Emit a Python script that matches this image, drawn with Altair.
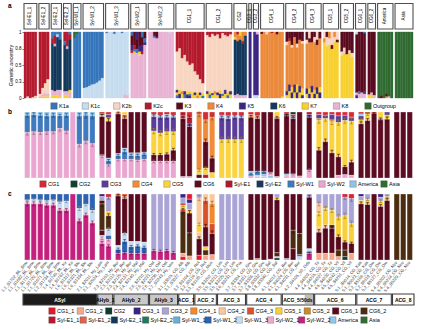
import altair as alt
import pandas as pd

FONT = "Liberation Sans"
W = 389  # plot width shared by all panels

# ======================= Panel a : individual ancestry =======================
k_names = ["K1a", "K1c", "K2b", "K2c", "K3", "K4", "K5", "K6", "K7", "K8", "Outgroup"]
k_codes = ["a", "c", "b", "r", "m", "o", "p", "n", "y", "k", "g"]
k_colors = ["#3676bc", "#c6dcef", "#f8d5c1", "#b41b2d", "#5b0b1f", "#ec8a3b",
            "#3d2683", "#13395c", "#f8d130", "#e9b3d4", "#2f6b31"]

pops_a = ["Syl-E1_1", "Syl-E1_2", "Syl-E2_1", "Syl-E2_2", "Syl-W1_1", "Syl-W1_2",
          "Syl-W1_3", "Syl-W2_1", "Syl-W2_2", "CG1_1", "CG1_2", "CG2", "CG3_1",
          "CG3_2", "CG4_1", "CG4_2", "CG4_3", "CG5_1", "CG5_2", "CG6_1", "CG6_2",
          "America", "Asia"]

# one string per individual; components listed top -> bottom, in percent
ind_a = [
    ["r100", "r98 b2", "r100", "r99 k1", "r97 b2 y1"],
    ["r94 b4 k2", "r85 b10 k3 y2", "r78 b15 k5 y2", "r72 b22 k4 y2"],
    ["a10 r8 n70 k8 y4", "a6 r12 k4 n68 k6 y4", "a4 c4 n80 k8 y4", "a12 n76 k10 y2"],
    ["r14 a6 n70 k6 y4", "r22 k4 n64 k6 y4", "a4 r8 n76 y4 k8"],
    ["g10 a90", "g4 a96", "a100"],
    ["a85 c15", "a84 c16", "a82 c18", "a80 c20", "a79 c21", "a77 c23", "a74 c26", "a70 c30"],
    ["a2 c98", "c100", "c100", "a3 c97", "c100", "c100", "a2 c98", "c95 k5", "c96 k4"],
    ["a6 m14 p8 r4 k68", "m20 r6 a4 y4 k66", "p12 m14 a6 k68", "m22 p8 y4 b2 k64",
     "a8 m12 p10 r4 k66", "m10 a6 p4 k80"],
    ["k100", "k100", "m6 a3 k91", "m8 p2 k90", "k100", "k100", "k100", "k100", "c2 k98", "k100"],
    ["r30 b58 p4 y4 a4", "r25 b63 y6 p6", "r40 b50 o4 y6", "r35 b55 p5 a5", "r45 b45 y5 p5",
     "r50 b40 y4 a3 p3", "r48 b44 y8", "r60 b32 p4 y4", "r65 b27 y5 o3", "r72 b20 p4 y4",
     "r78 b15 y4 a3"],
    ["r5 b85 p4 y6", "r8 b82 y5 a5", "r3 b90 p3 y4", "r6 b84 o4 y6", "r4 b88 p4 y4",
     "r10 b78 y6 p6", "r2 b92 a3 y3", "r5 b83 p6 y6", "r7 b85 y4 a4", "r4 b86 p5 y5"],
    ["o8 y4 n84 k4", "r4 o10 n80 k6", "y6 o6 n84 k4", "o14 r4 n78 k4", "o6 n90 k4"],
    ["p100"],
    ["p96 c4", "k4 p92 c4"],
    ["m3 o97", "o100", "b4 o96", "o100", "r2 o98", "o100", "m4 o96", "o100", "o98 y2"],
    ["m15 b5 o70 p6 y4", "m10 r4 o66 p10 y10", "m20 b4 o60 y8 p8", "m8 o72 p12 y8",
     "m18 b6 o56 y12 p8", "m12 o70 p10 y8", "m14 b4 o68 y10 p4"],
    ["m12 b6 o68 p8 y6", "b10 m6 o70 y8 p6", "m16 o66 p10 y8", "m8 b8 o72 y6 p6",
     "b12 m8 o64 p10 y6", "m10 o74 y8 p8"],
    ["b10 o6 y84", "m8 b14 y78", "o10 b10 y80", "b20 m6 y74", "o8 b8 y84", "b12 m4 y84"],
    ["m30 b6 y64", "m24 b8 y68", "m34 y66", "m28 b4 y68", "m32 b6 y62"],
    ["c4 m88 k4 p4", "m90 a4 k6", "m92 k8", "a2 m88 p4 k6"],
    ["m95 y5", "m92 k4 y4", "m96 k4"],
    ["g100", "g97 m3", "g100", "g94 m4 o2", "g98 k2", "g100"],
    ["g100", "g100", "g100", "g100", "g100", "g100", "g100"],
]

# ======================= Panel b : main groups =======================
b_cats = ["CG1", "CG2", "CG3", "CG4", "CG5", "CG6", "Syl-E1", "Syl-E2", "Syl-W1",
          "Syl-W2", "America", "Asia"]
b_codes = ["CG1", "CG2", "CG3", "CG4", "CG5", "CG6", "E1", "E2", "W1", "W2", "Am", "As"]
b_colors = ["#d62a35", "#123f2f", "#5a3d9a", "#f08b3b", "#fad33f", "#5d0b20",
            "#b3182d", "#153a5e", "#3d7ac0", "#eaa6d0", "#8ec5e7", "#2d6e2f"]

# one string per sample bar: "code:percent[:error]" listed top -> bottom
bars_b = [
    "Am:5:1 W1:26:3 W2:69:4", "Am:4:1 W1:26:3 W2:70:4", "Am:5:1 W1:26:3 W2:69:3",
    "Am:6:1 W1:24:3 W2:70:4", "Am:5:1 W1:25:3 W2:70:3", "Am:6:1 W1:19:2 W2:75:4",
    "Am:5:1 W1:24:3 W2:71:4", "W2:100", "Am:6:1 W1:43:4 W2:51:4",
    "Am:5:1 W1:39:4 W2:56:4", "Am:6:1 W1:42:4 W2:52:4",
    "CG1:3 As:2 CG5:2 CG6:58:3 W1:2 W2:33:2",
    "CG1:4 CG3:5 CG5:5 CG6:56:4 Am:4 W1:6:2 W2:20:2",
    "CG4:3 CG6:60:3 Am:3 W1:6:2 W2:28:2",
    "CG5:4 CG4:6 CG6:45:4 Am:5 W1:12:3 W2:28:2",
    "CG6:62:3 Am:4 W1:6:2 W2:28:2",
    "CG6:62:3 Am:4 W1:7:2 W2:27:2",
    "CG6:61:3 Am:3 W1:8:2 W2:28:2",
    "CG1:4 Am:3 CG3:22:3 CG5:36:4 CG6:10:2 W2:25:2",
    "CG1:5 Am:3 CG3:24:3 CG5:33:4 CG6:10:2 W2:25:2",
    "CG1:4 Am:4 CG3:22:3 CG5:34:4 CG6:11:2 W2:25:2",
    "CG1:5 Am:3 CG3:22:3 CG5:28:4 CG6:17:3 W2:25:2",
    "E1:6 CG1:4 CG6:88:3 W2:2",
    "CG1:8 E1:10:2 CG3:4 CG6:76:4 W2:2",
    "CG1:3 CG4:85:4 CG5:7:2 CG6:5",
    "CG1:12 CG4:33:4 CG6:40:4 CG5:10:2 E1:5",
    "CG1:8 CG4:62:4 CG6:22:3 CG5:8",
    "CG1:5 Am:4 CG3:33:3 CG5:58:4", "CG1:6 Am:4 CG3:32:3 CG5:58:4",
    "CG1:5 Am:3 CG3:34:3 CG5:58:4", "CG1:6 Am:3 CG3:33:3 CG5:58:4",
    "CG1:4 CG4:4 CG6:82:3 Am:4 W1:3:1 W2:3",
    "CG1:6 CG4:4 CG6:80:3 W1:6:2 Am:2 W2:2",
    "CG6:90:3 W1:5:2 Am:3 W2:2",
    "CG6:92:3 W2:4:1 Am:4",
    "CG5:8:2 CG1:2 CG6:88:3 W2:2",
    "CG1:3 CG2:3 CG6:88:3 Am:3 W2:3",
    "CG2:4 CG1:3 W1:3 CG6:84:3 W2:6:1",
    "CG6:97:2 W2:3",
    "E1:4 CG3:4 CG6:80:3 W2:12:2",
    "CG1:4 CG3:6 CG4:3 CG5:45:4 CG6:42:4",
    "CG1:5 CG3:5 CG5:35:4 CG6:55:4",
    "CG1:4 CG3:8 CG4:3 CG5:47:4 CG6:38:4",
    "CG1:6 CG3:10 CG5:52:4 CG6:28:4 W2:4",
    "CG1:5 CG3:8 CG5:70:4 CG6:12:2 W2:5",
    "CG1:8:2 CG3:6 CG5:62:4 CG6:20:3 W2:4",
    "CG1:3 Am:3 CG3:6 CG5:6:2 CG6:82:3",
    "CG1:3 CG5:10:2 CG6:87:3",
    "CG1:2 CG6:98:1",
    "CG5:10:2 CG3:2 CG6:88:3",
    "CG3:5 CG5:6:2 CG6:89:3",
    "CG6:100", "CG6:100", "CG6:100",
]

# ======================= Panel c : sub-groups =======================
c_cats = ["CG1_1", "CG1_2", "CG2", "CG3_1", "CG3_2", "CG4_1", "CG4_2", "CG4_3", "CG5_1",
          "CG5_2", "CG6_1", "CG6_2", "Syl-E1_1", "Syl-E1_2", "Syl-E2_1", "Syl-E2_2",
          "Syl-W1_1", "Syl-W1_2", "Syl-W1_3", "Syl-W2_1", "Syl-W2_2", "America", "Asia"]
c_codes = ["C11", "C12", "C2", "C31", "C32", "C41", "C42", "C43", "C51", "C52", "C61",
           "C62", "E11", "E12", "E21", "E22", "W11", "W12", "W13", "W21", "W22", "Am", "As"]
c_colors = ["#e31a2c", "#f5a98a", "#0d3b2c", "#3a2384", "#aaa4d6", "#f08a2d", "#f9c89b",
            "#d9512a", "#f9cf3a", "#c88a2b", "#5a0a1f", "#4b2c10", "#b8172f", "#e2634d",
            "#13365d", "#1e7a5b", "#6aaed8", "#2d62b1", "#c7dcf0", "#f2a6cf", "#c4217f",
            "#8fc8e8", "#2e6e2e"]

bars_c = [
    "W12:9:2 W13:4:1 W21:2 W22:85:3", "W12:8:2 W13:5:1 W21:2 W22:85:3",
    "W12:9:2 W13:4:1 W21:2 W22:85:3", "W12:10:2 W13:5:1 W21:2 W22:83:3",
    "W12:9:2 W13:6:1 W21:2 W22:83:3", "W12:12:2 W13:10:2 W21:3 W22:75:3",
    "W12:11:2 W13:11:2 W21:3 W22:75:3", "W22:100",
    "W12:22:3 W13:17:3 W21:2 W22:59:3", "W12:16:3 W13:14:2 W21:2 W22:68:3",
    "W12:25:3 W13:17:3 W21:2 W22:56:3",
    "C31:4 C32:6 C61:5 C62:40:4 C61:8 W13:4 W21:8:2 W22:25:3",
    "C11:5 C32:22:3 C51:6 C62:20:3 W13:10:2 W12:6 W21:10:2 W22:21:2",
    "C43:3 C61:75:3 W13:6 W12:6:2 W22:10:2",
    "C43:4 C41:3 C61:53:4 W13:12:2 W12:17:3 W22:11:2",
    "C61:72:3 W13:8 W12:10:2 W22:10:2",
    "C61:72:3 W13:7 W12:11:2 W22:10:2",
    "C61:73:3 W13:8 W12:9:2 W22:10:2",
    "C32:86:3 W22:14:2", "C32:87:3 W22:13:2", "C32:86:3 W22:14:2", "C32:89:3 W22:11:2",
    "C31:6 C32:8 C11:3 C51:6:2 C11:3 C62:64:4 C12:5 C11:5",
    "C11:8:2 C31:6 C32:10 C51:5 C61:30:4 C62:35:4 C12:6",
    "C32:6 C42:40:4 C51:12:2 C42:10 C61:25:3 C11:7",
    "C42:10 C43:40:4 C61:30:4 C51:5 C62:8 C12:7",
    "C42:15:3 C41:30:4 C43:15 C61:32:4 C12:8",
    "C32:100", "C32:99 C61:1", "C32:100", "C32:100",
    "C61:100", "C61:98:1 C41:2", "C61:100", "C61:99 W21:1",
    "C32:5 C51:4 C61:80:3 C62:6 W21:2 C2:3",
    "C61:98:1 C32:2", "C61:55:4 C62:28:4 C61:17", "C61:60:4 C62:32:4 W12:3 W13:5",
    "C32:5 C61:78:3 W13:4 W12:3 W22:10:2",
    "C32:15:3 C42:15:3 C51:20:3 C42:8 C61:32:4 C12:10",
    "C32:22:3 C51:25:3 C42:5 C61:38:4 C12:10",
    "C32:25:3 C51:22:3 C62:5 C61:38:4 C12:10",
    "C32:35:3 C51:30:4 C61:20:3 C62:10 C12:5",
    "C11:5 C32:28:3 C51:40:4 C61:12:2 C62:10 C2:5",
    "C11:7:2 C32:38:4 C51:30:4 C61:15:2 C12:10",
    "C31:4 C32:6 C51:5 C61:85:3", "C32:8 C51:8:2 C61:84:3", "C61:100",
    "C31:5 C32:6 C51:8:2 C61:81:3", "C32:4 C51:6:2 C61:90:3",
    "C62:100", "C62:100", "C62:100",
]

# sample groups (bars per group) and the boxes that label them
bar_groups = ["ASyl", "AHyb_1", "AHyb_2", "AHyb_3", "ACG_1", "ACG_2", "ACG_3", "ACG_4",
              "ACG_5", "50ds", "ACG_6", "ACG_7", "ACG_8"]
bar_counts = [11, 2, 5, 4, 2, 3, 4, 5, 3, 1, 6, 5, 3]
box_of_group = ["ASyl", "AHyb_1", "AHyb_2", "AHyb_3", "ACG_1", "ACG_2", "ACG_3", "ACG_4",
                "ACG_5/50ds", "ACG_5/50ds", "ACG_6", "ACG_7", "ACG_8"]

sample_labels = [
    "1.1_S1702_BL_Sme", "1.1_S1682_BL_Sme", "1.1_S1711_BL_Sme", "1.1_S1720_BL_Sme",
    "1.1_S1671_BL_Sme", "1.2_S1734_BL_Sme", "1.4_S1745_BL_Kir", "1.4_S1762_BL_Kir",
    "1.6_S1312_BL_Sto", "1.6_S1321_BL_Sto", "1.6_S1334_BL_Sto",
    "2.1_S2011_Hy_Lam", "2.1_S2024_Hy_Lam",
    "2.3_S2103_Hy_Bor", "2.3_S2112_Hy_Bor", "2.3_S2125_Hy_Bor", "2.4_S2131_Hy_Mal",
    "2.4_S2140_Hy_Mal",
    "2.6_S2210_Hy_Ost", "2.6_S2221_Hy_Ost", "2.6_S2236_Hy_Ost", "2.7_S2243_Hy_Ven",
    "3.1_S3015_CG_Alb", "3.1_S3027_CG_Alb",
    "3.2_S3104_CG_Rot", "3.2_S3116_CG_Rot", "3.3_S3120_CG_Mon",
    "3.5_S3202_CG_Lim", "3.5_S3213_CG_Lim", "3.5_S3225_CG_Lim", "3.6_S3231_CG_Pra",
    "3.7_S3304_CG_Gro", "3.7_S3311_CG_Gro", "3.7_S3326_CG_Gro", "3.8_S3332_CG_Sal",
    "3.8_S3340_CG_Sal",
    "4.1_S4012_CG_Ber", "4.1_S4024_CG_Ber", "4.1_S4031_CG_Ber",
    "4.2_S4105_50_Ods",
    "4.4_S4203_CG_Tir", "4.4_S4215_CG_Tir", "4.4_S4227_CG_Tir", "4.5_S4230_CG_Vil",
    "4.5_S4242_CG_Vil", "4.5_S4251_CG_Vil",
    "5.1_S5014_CG_Kas", "5.1_S5023_CG_Kas", "5.2_S5106_CG_Dre", "5.2_S5118_CG_Dre",
    "5.2_S5127_CG_Dre",
    "5.4_S5202_CG_Nov", "5.4_S5214_CG_Nov", "5.4_S5229_CG_Nov",
]

# ======================= layout helpers =======================
GAP_A = 0.8
GAP_B = 0.48
PAD_B = 0.09


def darker(hx, f=0.6):
    r, g, b = int(hx[1:3], 16), int(hx[3:5], 16), int(hx[5:7], 16)
    return "#%02x%02x%02x" % (int(r * f), int(g * f), int(b * f))


# panel a frames
rows_a, hdr = [], []
pos = 0.0
for pop, inds in zip(pops_a, ind_a):
    start = pos
    for s in inds:
        comps = [(t[0], float(t[1:])) for t in s.split()]
        tot = sum(v for _, v in comps)
        cum = 1.0
        for code, v in comps:
            fr = v / tot
            rows_a.append(dict(x0=pos, x1=pos + 1, y0=cum - fr, y1=cum,
                               col=k_colors[k_codes.index(code)]))
            cum -= fr
        pos += 1
    hdr.append(dict(pop=pop, x0=start, x1=pos, xm=(start + pos) / 2))
    pos += GAP_A
total_a = pos - GAP_A
df_a = pd.DataFrame(rows_a)
df_hdr = pd.DataFrame(hdr)

# bar positions for panels b and c
bar_x, grp_span = [], []
pos = 0.0
for g, n in zip(bar_groups, bar_counts):
    st = pos
    for _ in range(n):
        bar_x.append((pos, pos + 1))
        pos += 1
    grp_span.append((g, st, pos))
    pos += GAP_B
total_b = pos - GAP_B


def bar_frames(bars, codes, cats, colors):
    rows, errs = [], []
    for i, s in enumerate(bars):
        toks = [t.split(":") for t in s.split()]
        tot = sum(float(t[1]) for t in toks)
        x0, x1 = bar_x[i]
        xc = (x0 + x1) / 2
        cum = 1.0
        for t in toks:
            v = float(t[1]) / tot
            top, bot = cum, cum - v
            cum = bot
            col = colors[codes.index(t[0])]
            rows.append(dict(x0=x0 + PAD_B, x1=x1 - PAD_B, y0=bot, y1=top, col=col))
            if len(t) > 2 and top < 0.995:
                e = float(t[2]) / 100
                lo, hi = max(top - e, 0), min(top + e, 1)
                dc = darker(col)
                errs.append(dict(ex0=xc, ex1=xc, ey0=lo, ey1=hi, col=dc))
                errs.append(dict(ex0=xc - 0.22, ex1=xc + 0.22, ey0=lo, ey1=lo, col=dc))
                errs.append(dict(ex0=xc - 0.22, ex1=xc + 0.22, ey0=hi, ey1=hi, col=dc))
    return pd.DataFrame(rows), pd.DataFrame(errs)


yaxis = alt.Axis(values=[0, 0.25, 0.5, 0.75, 1], format="~g", title="Genetic ancestry",
                 labelFontSize=4.5, titleFontSize=5.5, titleFontWeight="normal",
                 tickSize=2, tickWidth=0.5, tickColor="black", labelColor="black",
                 domain=False, grid=False, labelPadding=1, titlePadding=1)
yscale = alt.Scale(domain=[0, 1], nice=False, zero=False)


def letter(t, y):
    return alt.Chart(pd.DataFrame({"t": [t]})).mark_text(
        fontSize=6.5, fontWeight="bold", font=FONT, baseline="top", align="left"
    ).encode(x=alt.value(-16), y=alt.value(y), text="t:N")


# ---------------- header (population boxes) ----------------
xa = alt.Scale(domain=[0, total_a], nice=False, zero=False)
hdr_box = alt.Chart(df_hdr).mark_rect(fill="white", stroke="#505050", strokeWidth=1.1).encode(
    x=alt.X("x0:Q", scale=xa, axis=None), x2="x1", y=alt.value(0.5), y2=alt.value(26))
hdr_txt = alt.Chart(df_hdr).mark_text(angle=270, fontSize=4.5, font=FONT,
                                      baseline="middle", align="center").encode(
    x=alt.X("xm:Q", scale=xa, axis=None), y=alt.value(13), text="pop:N")
header = alt.layer(hdr_box, hdr_txt, letter("a", 0)).properties(width=W, height=29)

# ---------------- panel a ----------------
panel_a = alt.Chart(df_a).mark_rect(strokeWidth=0.35).encode(
    x=alt.X("x0:Q", scale=xa, axis=None), x2="x1",
    y=alt.Y("y0:Q", scale=yscale, axis=yaxis), y2="y1",
    fill=alt.Fill("col:N", scale=None),
    stroke=alt.Stroke("col:N", scale=None),
).properties(width=W, height=66)


# ---------------- legends ----------------
def make_legend(rows, height):
    items = []
    for labels, colors, first, last, py in rows:
        n = len(labels)
        step = (last - first) / (n - 1)
        for i, (lab, col) in enumerate(zip(labels, colors)):
            items.append(dict(label=lab, color=col, px=first + i * step, py=py))
    df = pd.DataFrame(items)
    xs = alt.Scale(domain=[0, W], nice=False, zero=False)
    ys = alt.Scale(domain=[height, 0], nice=False, zero=False)
    base = alt.Chart(df).encode(x=alt.X("px:Q", scale=xs, axis=None),
                                y=alt.Y("py:Q", scale=ys, axis=None))
    sq = base.mark_square(size=42, opacity=1, stroke="#444444", strokeWidth=0.3).encode(
        fill=alt.Fill("color:N", scale=None))
    tx = base.mark_text(align="left", baseline="middle", dx=5, fontSize=5.5,
                        font=FONT, color="black").encode(text="label:N")
    return alt.layer(sq, tx).properties(width=W, height=height)


leg_a = make_legend([(k_names, k_colors, 30, 344, 8)], 14)
leg_b = make_legend([(b_cats, b_colors, 19, 360, 6)], 16)
leg_c = make_legend([(c_cats[:12], c_colors[:12], 28, 340, 6),
                     (c_cats[12:], c_colors[12:], 28, 340, 15)], 20)


# ---------------- panels b / c ----------------
xb = alt.Scale(domain=[0, total_b], nice=False, zero=False)


def bar_panel(bars, codes, cats, colors, let, with_labels=False):
    df, er = bar_frames(bars, codes, cats, colors)
    rect = alt.Chart(df).mark_rect(stroke="white", strokeWidth=0.3).encode(
        x=alt.X("x0:Q", scale=xb, axis=None), x2="x1",
        y=alt.Y("y0:Q", scale=yscale, axis=yaxis), y2="y1",
        fill=alt.Fill("col:N", scale=None))
    eb = alt.Chart(er).mark_rule(strokeWidth=0.6).encode(
        x=alt.X("ex0:Q", scale=xb, axis=None), x2="ex1",
        y=alt.Y("ey0:Q", scale=yscale, axis=None), y2="ey1",
        stroke=alt.Stroke("col:N", scale=None))
    layers = [rect, eb, letter(let, -3)]
    if with_labels:
        lab = pd.DataFrame(dict(xc=[(a + b) / 2 for a, b in bar_x], lab=sample_labels))
        layers.append(alt.Chart(lab).mark_text(
            angle=310, align="right", baseline="middle", fontSize=4.2, font=FONT,
            color="#333333").encode(
            x=alt.X("xc:Q", scale=xb, axis=None), y=alt.value(68), text="lab:N"))
    return alt.layer(*layers).properties(width=W, height=66)


panel_b = bar_panel(bars_b, b_codes, b_cats, b_colors, "b")
panel_c = bar_panel(bars_c, c_codes, c_cats, c_colors, "c", with_labels=True)

# ---------------- group boxes ----------------
box_rows = {}
for (g, st, en), bx in zip(grp_span, box_of_group):
    if bx in box_rows:
        box_rows[bx]["x1"] = en
    else:
        box_rows[bx] = dict(box=bx, x0=st, x1=en)
boxes = []
for bx, r in box_rows.items():
    if bx == "ASyl":
        fill, tcol = "#1c1c1c", "white"
    elif bx.startswith("AHyb"):
        fill, tcol = "#c9c9c9", "black"
    else:
        fill, tcol = "white", "black"
    boxes.append(dict(box=bx, x0=r["x0"] - 0.15, x1=r["x1"] + 0.15,
                      xm=(r["x0"] + r["x1"]) / 2, fill=fill, tcol=tcol))
df_box = pd.DataFrame(boxes)
shade = pd.DataFrame([dict(x0=st - 0.2, x1=en + 0.1) for g, st, en in grp_span if g == "50ds"])

box_r = alt.Chart(df_box).mark_rect(stroke="#3c3c3c", strokeWidth=1.1).encode(
    x=alt.X("x0:Q", scale=xb, axis=None), x2="x1", y=alt.value(34), y2=alt.value(45),
    fill=alt.Fill("fill:N", scale=None))
shade_r = alt.Chart(shade).mark_rect(fill="#bdbdbd").encode(
    x=alt.X("x0:Q", scale=xb, axis=None), x2="x1", y=alt.value(35), y2=alt.value(44))
box_t = alt.Chart(df_box).mark_text(fontSize=5, fontWeight="bold", font=FONT,
                                    baseline="middle").encode(
    x=alt.X("xm:Q", scale=xb, axis=None), y=alt.value(39.5), text="box:N",
    fill=alt.Fill("tcol:N", scale=None))
groups = alt.layer(box_r, shade_r, box_t).properties(width=W, height=45)

chart = alt.vconcat(
    header, panel_a, leg_a, panel_b, leg_b, panel_c, groups, leg_c,
    spacing=0, bounds="flush",
).resolve_scale(
    x="independent", y="independent", fill="independent", stroke="independent"
).properties(
    padding={"left": 0, "top": 2, "right": 2, "bottom": 3}
).configure_view(stroke=None).configure_axis(
    labelFont=FONT, titleFont=FONT
).configure_text(font=FONT)

chart.save("out.html", embed_options={"renderer": "svg", "actions": False})
